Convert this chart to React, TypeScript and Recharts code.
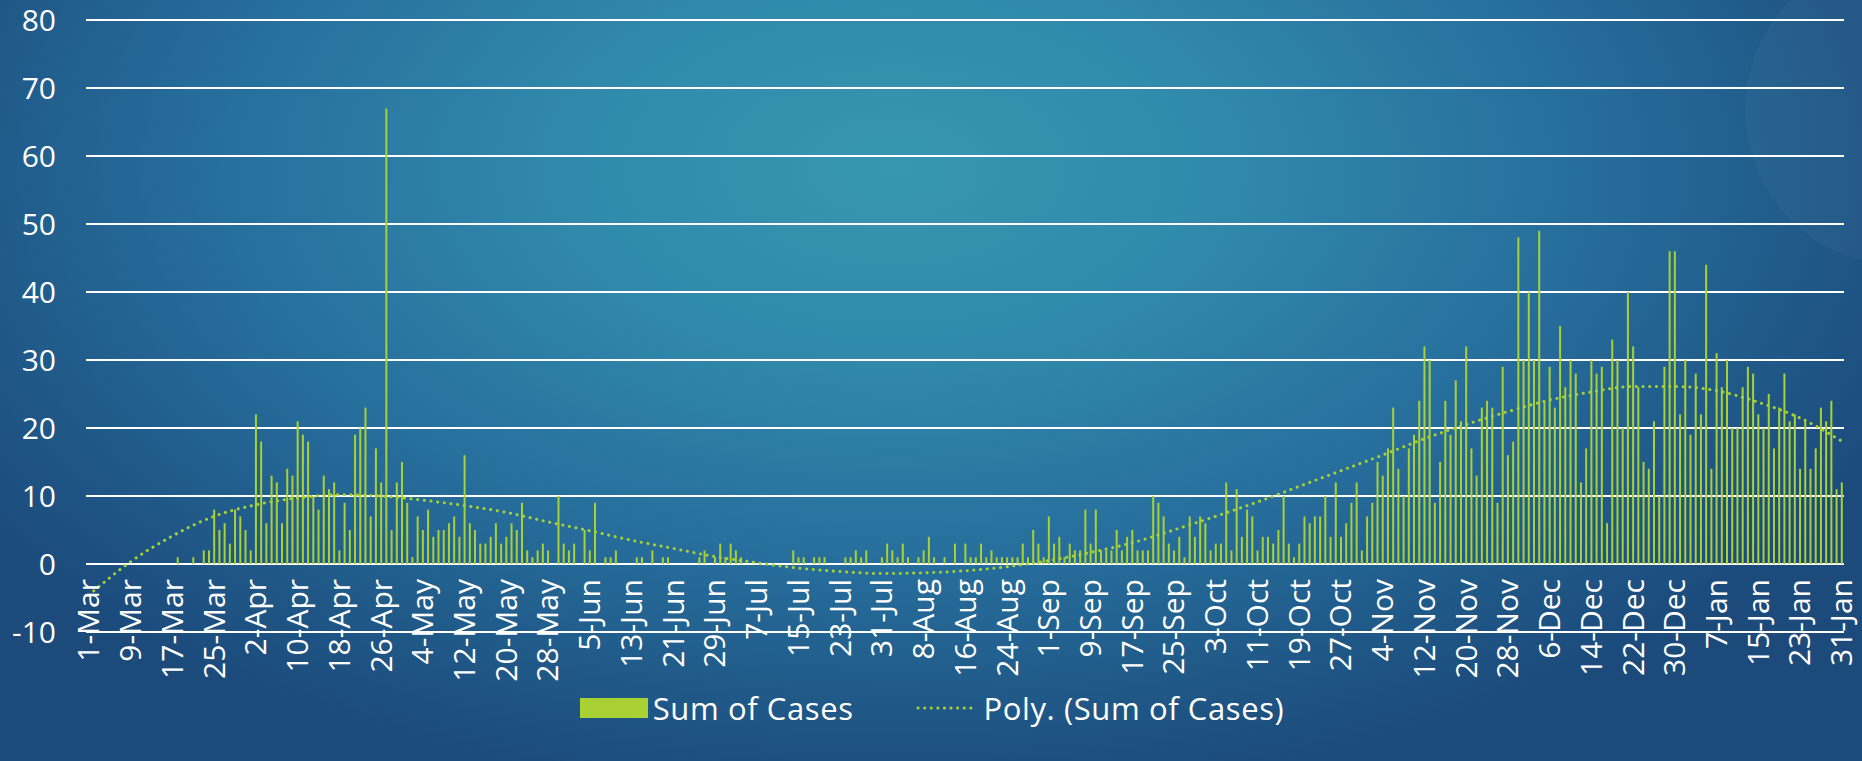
import React from 'react';
import { ComposedChart, Bar, Line, XAxis, YAxis, CartesianGrid, Legend } from 'recharts';

// ---- categories ----
const monthNames = ['Mar', 'Apr', 'May', 'Jun', 'Jul', 'Aug', 'Sep', 'Oct', 'Nov', 'Dec', 'Jan'];
const monthLengths = [31, 30, 31, 30, 31, 31, 30, 31, 30, 31, 31];

// ---- daily "Sum of Cases" values, one array per month ----
const marCases = [0, 0, 0, 0, 0, 0, 0, 0, 0, 0, 0, 0, 0, 0, 0, 0, 0, 1, 0, 0, 1, 0, 2, 2, 8, 5, 6, 3, 8, 7, 5];
const aprCases = [2, 22, 18, 6, 13, 12, 6, 14, 13, 21, 19, 18, 10, 8, 13, 11, 12, 2, 9, 5, 19, 20, 23, 7, 17, 12, 67, 5, 12, 15];
const mayCases = [9, 1, 7, 5, 8, 4, 5, 5, 6, 7, 4, 16, 6, 5, 3, 3, 4, 6, 3, 4, 6, 5, 9, 2, 1, 2, 3, 2, 0, 10, 3];
const junCases = [2, 3, 0, 5, 2, 9, 0, 1, 1, 2, 0, 0, 0, 1, 1, 0, 2, 0, 1, 1, 0, 0, 0, 0, 0, 1, 2, 0, 1, 3];
const julCases = [1, 3, 2, 1, 0, 0, 0, 0, 0, 0, 0, 0, 0, 2, 1, 1, 0, 1, 1, 1, 0, 0, 0, 1, 1, 2, 1, 2, 0, 0, 1];
const augCases = [3, 2, 1, 3, 1, 0, 1, 2, 4, 1, 0, 1, 0, 3, 0, 3, 1, 1, 3, 1, 2, 1, 1, 1, 1, 1, 3, 1, 5, 3, 1];
const sepCases = [7, 3, 4, 1, 3, 2, 2, 8, 3, 8, 2, 2, 2, 5, 2, 4, 5, 2, 2, 2, 10, 9, 7, 3, 2, 4, 1, 7, 4, 7];
const octCases = [6, 2, 3, 3, 12, 2, 11, 4, 8, 7, 2, 4, 4, 3, 5, 10, 3, 1, 3, 7, 6, 7, 7, 10, 4, 12, 4, 6, 9, 12, 2];
const novCases = [7, 9, 15, 13, 17, 23, 14, 10, 17, 19, 24, 32, 30, 9, 15, 24, 19, 27, 21, 32, 17, 13, 23, 24, 23, 9, 29, 16, 18, 48];
const decCases = [30, 40, 30, 49, 24, 29, 23, 35, 26, 30, 28, 12, 17, 30, 28, 29, 6, 33, 30, 20, 40, 32, 26, 15, 14, 21, 10, 29, 46, 46, 22];
const janCases = [30, 19, 28, 22, 44, 14, 31, 26, 30, 20, 20, 26, 29, 28, 22, 20, 25, 17, 23, 28, 21, 22, 14, 21, 14, 17, 23, 21, 24, 11, 12];

// ---- tick labels (every 8th day) ----
const tickLabels = [
  '1-Mar', '9-Mar', '17-Mar', '25-Mar', '2-Apr', '10-Apr', '18-Apr', '26-Apr', '4-May', '12-May', '20-May',
  '28-May', '5-Jun', '13-Jun', '21-Jun', '29-Jun', '7-Jul', '15-Jul', '23-Jul', '31-Jul', '8-Aug', '16-Aug',
  '24-Aug', '1-Sep', '9-Sep', '17-Sep', '25-Sep', '3-Oct', '11-Oct', '19-Oct', '27-Oct', '4-Nov', '12-Nov',
  '20-Nov', '28-Nov', '6-Dec', '14-Dec', '22-Dec', '30-Dec', '7-Jan', '15-Jan', '23-Jan', '31-Jan',
];

// ---- polynomial trendline, read at each tick label ----
const trendValues = [
  -4.6, 0.3, 4.1, 7.0, 8.7, 9.7, 10.2, 10.0, 9.4, 8.6, 7.6, 6.2, 4.9, 3.5, 2.3, 1.1, 0.2, -0.6, -1.1, -1.4, -1.3, -1.0,
  -0.4, 0.5, 1.7, 3.1, 5.0, 7.0, 9.1, 11.4, 13.7, 16.0, 18.4, 20.5, 22.4, 24.1, 25.3, 26.1, 26.1, 25.5, 23.8, 21.5, 18.1,
];

const yTicks = [-10, 0, 10, 20, 30, 40, 50, 60, 70, 80];

// ---- build table ----
const allCases = [
  ...marCases, ...aprCases, ...mayCases, ...junCases, ...julCases, ...augCases,
  ...sepCases, ...octCases, ...novCases, ...decCases, ...janCases,
];
const dayLabels: string[] = [];
monthNames.forEach((m, mi) => {
  for (let d = 1; d <= monthLengths[mi]; d++) dayLabels.push(`${d}-${m}`);
});
const data = dayLabels.map((day, i) => {
  const ti = tickLabels.indexOf(day);
  return { day, cases: allCases[i], trend: ti >= 0 ? trendValues[ti] : null };
});

// ---- layout / style ----
const W = 1862;
const H = 761;
const PLOT_TOP = 20;
const PLOT_BOTTOM = 632;
const LEGEND_H = 40;
const X_AXIS_H = 2;
const FONT = '"Open Sans", "DejaVu Sans", sans-serif';
const GREEN = '#A9D134';
const Y_MIN = -10;
const Y_MAX = 80;
const ZERO_SHIFT = ((PLOT_BOTTOM - PLOT_TOP) * (0 - Y_MIN)) / (Y_MAX - Y_MIN);

const XTick = (props: any) => {
  const { x, y, payload } = props;
  const ty = y - X_AXIS_H - ZERO_SHIFT + 17;
  return (
    <text
      x={x}
      y={ty}
      transform={`rotate(-90, ${x}, ${ty})`}
      textAnchor="end"
      dy="0.36em"
      fill="#FFFFFF"
      fontSize={30}
      fontFamily={FONT}
    >
      {payload.value}
    </text>
  );
};

const renderLegend = () => (
  <div
    style={{
      display: 'flex',
      justifyContent: 'center',
      alignItems: 'center',
      height: LEGEND_H,
      fontFamily: FONT,
      fontSize: 31,
      letterSpacing: 0.6,
      color: '#FFFFFF',
      paddingLeft: 2,
    }}
  >
    <span style={{ display: 'inline-block', width: 68, height: 20, background: GREEN, marginRight: 5 }} />
    <span>Sum of Cases</span>
    <svg width={62} height={8} style={{ marginLeft: 62, marginRight: 6 }}>
      <line x1={2} y1={4} x2={60} y2={4} stroke={GREEN} strokeWidth={3} strokeDasharray="0.1 6.5" strokeLinecap="round" />
    </svg>
    <span>Poly. (Sum of Cases)</span>
  </div>
);

export default function App() {
  return (
    <div
      style={{
        position: 'absolute',
        left: 0,
        top: 0,
        width: W,
        height: H,
        overflow: 'hidden',
        background:
          'radial-gradient(ellipse 60% 85% at 48% 22%, #3797B1 0%, #3089AA 30%, #276F9D 60%, #1F5786 85%, #1B4A7B 100%)',
      }}
    >
      <div
        style={{
          position: 'absolute',
          left: 1745,
          top: -45,
          width: 310,
          height: 310,
          borderRadius: '50%',
          background: 'rgba(255,255,255,0.03)',
        }}
      />
      <div style={{ position: 'absolute', left: 0, top: 0 }}>
        <ComposedChart
          width={W}
          height={H}
          data={data}
          margin={{ top: PLOT_TOP, right: 18, left: 0, bottom: H - PLOT_BOTTOM - LEGEND_H - X_AXIS_H }}
          barCategoryGap={0}
        >
          <CartesianGrid vertical={false} stroke="#FFFFFF" strokeWidth={2} />
          <XAxis
            dataKey="day"
            ticks={tickLabels}
            interval={0}
            tick={(p: any) => <XTick {...p} />}
            tickLine={false}
            axisLine={false}
            tickSize={0}
            tickMargin={0}
            height={X_AXIS_H}
          />
          <YAxis
            domain={[Y_MIN, Y_MAX]}
            ticks={yTicks}
            width={86}
            tickLine={false}
            axisLine={false}
            tickSize={0}
            tickMargin={30}
            tick={{ fill: '#FFFFFF', fontSize: 30, fontFamily: FONT }}
            interval={0}
          />
          <Bar dataKey="cases" name="Sum of Cases" fill={GREEN} barSize={2} isAnimationActive={false} />
          <Line
            dataKey="trend"
            name="Poly. (Sum of Cases)"
            type="monotone"
            connectNulls
            stroke={GREEN}
            strokeWidth={3}
            strokeDasharray="0.1 6.6"
            strokeLinecap="round"
            dot={false}
            activeDot={false}
            isAnimationActive={false}
          />
          <Legend
            content={renderLegend}
            wrapperStyle={{ top: 688, left: 0, width: W, height: LEGEND_H }}
          />
        </ComposedChart>
      </div>
    </div>
  );
}
